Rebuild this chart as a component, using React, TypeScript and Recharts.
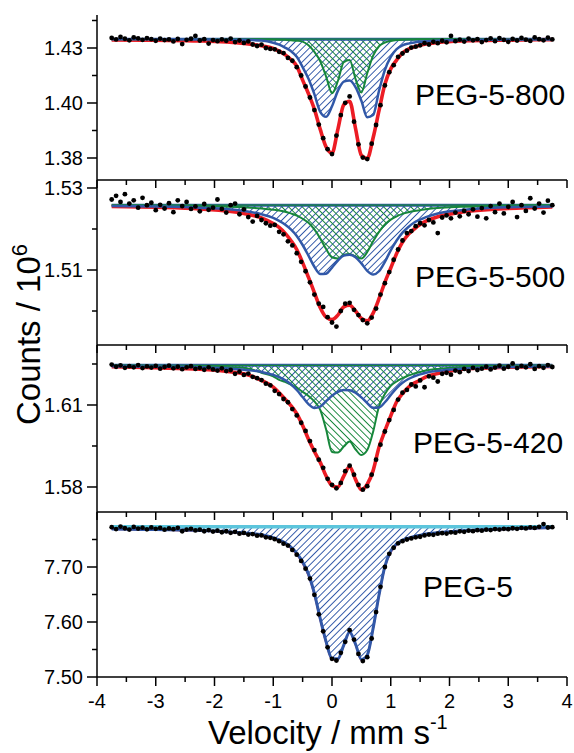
import React from 'react';
import { ComposedChart, Area, Line, Scatter, XAxis, YAxis } from 'recharts';

const RED = '#ec1c24';
const BLUE = '#3158a8';
const GREEN = '#17873b';
const CYAN = '#5cc5dc';
const FONT = "'Liberation Sans', Arial, Helvetica, sans-serif";

// velocity grid of the fitted curves (mm/s)
const VEL = [-3.75, -3, -2.25, -1.5, -1.2, -1, -0.9, -0.8, -0.7, -0.6, -0.5, -0.4, -0.3, -0.2, -0.1, 0, 0.1, 0.2, 0.3, 0.4, 0.5, 0.6, 0.7, 0.8, 0.9, 1, 1.1, 1.2, 1.3, 1.4, 1.5, 1.6, 1.8, 2.2, 3, 3.75];

// velocity of the measured channels
const VEL_DOTS = [
  -3.75, -3.675, -3.6, -3.525, -3.45, -3.375, -3.3, -3.225, -3.15, -3.075,
  -3, -2.925, -2.85, -2.775, -2.7, -2.625, -2.55, -2.475, -2.4, -2.325,
  -2.25, -2.175, -2.1, -2.025, -1.95, -1.875, -1.8, -1.725, -1.65, -1.575,
  -1.5, -1.425, -1.35, -1.275, -1.2, -1.125, -1.05, -0.975, -0.9, -0.825,
  -0.75, -0.675, -0.6, -0.525, -0.45, -0.375, -0.3, -0.225, -0.15, -0.075,
  0, 0.075, 0.15, 0.225, 0.3, 0.375, 0.45, 0.525, 0.6, 0.675,
  0.75, 0.825, 0.9, 0.975, 1.05, 1.125, 1.2, 1.275, 1.35, 1.425,
  1.5, 1.575, 1.65, 1.725, 1.8, 1.875, 1.95, 2.025, 2.1, 2.175,
  2.25, 2.325, 2.4, 2.475, 2.55, 2.625, 2.7, 2.775, 2.85, 2.925,
  3, 3.075, 3.15, 3.225, 3.3, 3.375, 3.45, 3.525, 3.6, 3.675, 3.75,
];

const BASE_SPAN = [-3.75, 3.75];

const X_TICKS = [-4, -3.5, -3, -2.5, -2, -1.5, -1, -0.5, 0, 0.5, 1, 1.5, 2, 2.5, 3, 3.5, 4];
const X_MAJOR = [-4, -3, -2, -1, 0, 1, 2, 3, 4];
const X_LABELS = ['-4', '-3', '-2', '-1', '0', '1', '2', '3', '4'];

// PEG-5-800
const P800_BASE = 1.429;
const P800_Y_MAJOR = [1.375, 1.4, 1.425];
const P800_Y_MINOR = [1.3875, 1.4125, 1.4375];
const P800_Y_LABELS = ['1.38', '1.40', '1.43'];
const P800_RED = [1.4287, 1.4285, 1.4282, 1.4271, 1.426, 1.4248, 1.4236, 1.422, 1.4198, 1.4168, 1.4104, 1.4042, 1.3972, 1.388, 1.38, 1.3772, 1.388, 1.3992, 1.4008, 1.3885, 1.3762, 1.3748, 1.3842, 1.3965, 1.4085, 1.4155, 1.4195, 1.4228, 1.4245, 1.4255, 1.4262, 1.4268, 1.4275, 1.4282, 1.4286, 1.4288];
const P800_BLUE = [1.429, 1.429, 1.4289, 1.4287, 1.4284, 1.4274, 1.4265, 1.4252, 1.4236, 1.421, 1.4163, 1.411, 1.404, 1.396, 1.3937, 1.3985, 1.4055, 1.4097, 1.4102, 1.4072, 1.401, 1.3935, 1.3945, 1.4055, 1.415, 1.421, 1.4245, 1.4262, 1.427, 1.4275, 1.4278, 1.428, 1.4283, 1.4286, 1.4288, 1.4289];
const P800_GREEN = [1.429, 1.429, 1.429, 1.429, 1.429, 1.4289, 1.4288, 1.4287, 1.4285, 1.4283, 1.4279, 1.4262, 1.4232, 1.419, 1.412, 1.4044, 1.41, 1.4185, 1.4195, 1.411, 1.4048, 1.4135, 1.4215, 1.4258, 1.4275, 1.4282, 1.4286, 1.4288, 1.4289, 1.4289, 1.429, 1.429, 1.429, 1.429, 1.429, 1.429];
const P800_DOTS = [
  1.4296, 1.4289, 1.43, 1.4292, 1.4285, 1.4298, 1.4294, 1.4287, 1.4295, 1.429,
  1.4283, 1.4293, 1.4286, 1.4289, 1.428, 1.4291, 1.4268, 1.4287, 1.4292, 1.4305,
  1.4284, 1.429, 1.427, 1.4286, 1.4281, 1.4289, 1.4283, 1.4293, 1.4277, 1.4284,
  1.4273, 1.428, 1.4266, 1.4259, 1.4265, 1.425, 1.4246, 1.4244, 1.4233, 1.4227,
  1.4205, 1.4192, 1.4163, 1.4125, 1.4075, 1.4025, 1.3968, 1.3902, 1.384, 1.379,
  1.3768, 1.3852, 1.3945, 1.4001, 1.403, 1.3915, 1.3812, 1.3752, 1.3745, 1.3815,
  1.39, 1.399, 1.408, 1.414, 1.4172, 1.421, 1.4225, 1.4238, 1.4252, 1.4256,
  1.4262, 1.4272, 1.4266, 1.4278, 1.4272, 1.4283, 1.4276, 1.4305, 1.4281, 1.4288,
  1.4279, 1.4293, 1.4285, 1.429, 1.4277, 1.4286, 1.4294, 1.4281, 1.4295, 1.4287,
  1.4278, 1.4291, 1.4284, 1.4296, 1.4288, 1.4282, 1.4298, 1.429, 1.4285, 1.4297, 1.4289,
];

// PEG-5-500
const P500_BASE = 1.5258;
const P500_Y_MAJOR = [1.51, 1.53];
const P500_Y_MINOR = [1.5, 1.52];
const P500_Y_LABELS = ['1.51', '1.53'];
const P500_RED = [1.5255, 1.5253, 1.5249, 1.5238, 1.5227, 1.5213, 1.5204, 1.519, 1.5172, 1.515, 1.5118, 1.5082, 1.5045, 1.5008, 1.4985, 1.4979, 1.499, 1.501, 1.5014, 1.5, 1.4982, 1.4976, 1.4995, 1.503, 1.507, 1.5105, 1.514, 1.5168, 1.5187, 1.52, 1.5211, 1.5219, 1.523, 1.5241, 1.525, 1.5254];
const P500_BLUE = [1.5256, 1.5255, 1.5252, 1.5244, 1.5236, 1.5227, 1.522, 1.5211, 1.5199, 1.5183, 1.5161, 1.5135, 1.5108, 1.509, 1.5091, 1.5106, 1.5123, 1.5135, 1.5137, 1.5131, 1.5116, 1.5098, 1.5089, 1.5097, 1.512, 1.5148, 1.5172, 1.5191, 1.5205, 1.5216, 1.5223, 1.5229, 1.5238, 1.5246, 1.5253, 1.5255];
const P500_GREEN = [1.5258, 1.5257, 1.5256, 1.5253, 1.525, 1.5247, 1.5245, 1.5242, 1.5238, 1.5233, 1.5225, 1.5215, 1.5199, 1.5177, 1.5151, 1.5131, 1.5128, 1.5137, 1.5139, 1.5133, 1.5128, 1.5144, 1.517, 1.5193, 1.5211, 1.5223, 1.5231, 1.5237, 1.5241, 1.5244, 1.5246, 1.5248, 1.5251, 1.5254, 1.5257, 1.5258];
const P500_DOTS = [
  1.5272, 1.5281, 1.5266, 1.5285, 1.5262, 1.527, 1.5252, 1.5276, 1.5258, 1.5264,
  1.5246, 1.5259, 1.525, 1.5263, 1.5241, 1.527, 1.5256, 1.5266, 1.5249, 1.5255,
  1.5243, 1.5261, 1.5247, 1.5252, 1.5272, 1.5249, 1.524, 1.5258, 1.5262, 1.5236,
  1.5248, 1.5229, 1.5218, 1.5232, 1.5222, 1.5214, 1.5208, 1.521, 1.5193, 1.5187,
  1.517, 1.516, 1.5141, 1.512, 1.5097, 1.507, 1.504, 1.5018, 1.501, 1.4985,
  1.4972, 1.4962, 1.5, 1.5018, 1.502, 1.5003, 1.499, 1.4978, 1.497, 1.4984,
  1.5006, 1.504, 1.5068, 1.5095, 1.5125, 1.515, 1.5172, 1.519, 1.5195, 1.5207,
  1.5214, 1.5209, 1.5222, 1.5216, 1.519, 1.5228, 1.5233, 1.5226, 1.524, 1.5231,
  1.5244, 1.5236, 1.5248, 1.523, 1.5251, 1.5226, 1.5256, 1.5241, 1.5262, 1.5238,
  1.5254, 1.5266, 1.5229, 1.5258, 1.5244, 1.5275, 1.525, 1.5262, 1.524, 1.5269, 1.5258,
];

// PEG-5-420
const P420_BASE = 1.6245;
const P420_Y_MAJOR = [1.58, 1.61];
const P420_Y_MINOR = [1.595, 1.625];
const P420_Y_LABELS = ['1.58', '1.61'];
const P420_RED = [1.624, 1.6236, 1.6231, 1.6214, 1.619, 1.6165, 1.6145, 1.6122, 1.6098, 1.6068, 1.6025, 1.5975, 1.593, 1.589, 1.584, 1.5805, 1.58, 1.584, 1.5875, 1.5828, 1.579, 1.581, 1.586, 1.5945, 1.6005, 1.606, 1.6112, 1.6142, 1.6165, 1.618, 1.6191, 1.6203, 1.6215, 1.623, 1.6238, 1.6241];
const P420_BLUE = [1.6242, 1.624, 1.6238, 1.6229, 1.6221, 1.621, 1.6202, 1.6191, 1.6176, 1.6155, 1.6129, 1.6103, 1.6089, 1.6094, 1.6114, 1.6134, 1.6148, 1.6155, 1.6154, 1.6145, 1.6128, 1.6107, 1.609, 1.6091, 1.611, 1.6137, 1.6162, 1.6181, 1.6195, 1.6205, 1.6212, 1.6218, 1.6225, 1.6233, 1.6239, 1.6241];
const P420_GREEN = [1.6244, 1.6243, 1.6241, 1.6236, 1.6218, 1.6205, 1.6192, 1.6185, 1.6175, 1.6163, 1.6148, 1.6133, 1.6113, 1.6082, 1.601, 1.5928, 1.5926, 1.5948, 1.5966, 1.5938, 1.5917, 1.5935, 1.6002, 1.6095, 1.614, 1.617, 1.6186, 1.6198, 1.6208, 1.6215, 1.6221, 1.6226, 1.6232, 1.6238, 1.6242, 1.6244];
const P420_DOTS = [
  1.6248, 1.624, 1.6245, 1.6236, 1.6242, 1.6238, 1.6246, 1.6235, 1.6241, 1.6237,
  1.6243, 1.6233, 1.6239, 1.6244, 1.6234, 1.624, 1.6231, 1.6238, 1.6242, 1.6232,
  1.6236, 1.6229, 1.6238, 1.623, 1.6226, 1.6234, 1.6224, 1.6228, 1.6214, 1.6222,
  1.621, 1.6215, 1.6203, 1.6198, 1.6191, 1.6178, 1.6172, 1.6152, 1.614, 1.6122,
  1.611, 1.6085, 1.6062, 1.6035, 1.6005, 1.5968, 1.5935, 1.59, 1.587, 1.583,
  1.5808, 1.5795, 1.5815, 1.5858, 1.5878, 1.5845, 1.5808, 1.579, 1.5803, 1.5845,
  1.59, 1.5955, 1.6003, 1.6045, 1.6082, 1.612, 1.6145, 1.6155, 1.6175, 1.6168,
  1.619, 1.6165, 1.6205, 1.62, 1.6186, 1.6214, 1.6218, 1.6211, 1.6226, 1.622,
  1.6232, 1.6224, 1.6236, 1.6228, 1.6233, 1.624, 1.623, 1.6237, 1.6244, 1.6233,
  1.624, 1.6252, 1.6235, 1.6243, 1.6238, 1.6249, 1.6232, 1.6242, 1.6236, 1.6246, 1.6239,
];

// PEG-5
const P5_BASE = 7.773;
const P5_Y_MAJOR = [7.5, 7.6, 7.7];
const P5_Y_MINOR = [7.55, 7.65, 7.75];
const P5_Y_LABELS = ['7.50', '7.60', '7.70'];
const P5_RED = [7.7685, 7.7672, 7.7655, 7.7607, 7.757, 7.7518, 7.7478, 7.7422, 7.734, 7.7228, 7.7065, 7.684, 7.649, 7.603, 7.5615, 7.5318, 7.5315, 7.5565, 7.5808, 7.5585, 7.5305, 7.539, 7.587, 7.647, 7.699, 7.7268, 7.7402, 7.7474, 7.751, 7.754, 7.7563, 7.7585, 7.761, 7.7645, 7.7685, 7.7708];
const P5_BLUE = [7.7692, 7.768, 7.7665, 7.762, 7.7585, 7.7535, 7.7495, 7.744, 7.736, 7.725, 7.709, 7.687, 7.652, 7.606, 7.564, 7.5335, 7.533, 7.558, 7.582, 7.56, 7.532, 7.54, 7.5885, 7.649, 7.701, 7.729, 7.742, 7.749, 7.7525, 7.7555, 7.7578, 7.76, 7.7625, 7.7658, 7.7695, 7.7716];
const P5_DOTS = [
  7.7725, 7.769, 7.7735, 7.7705, 7.768, 7.7728, 7.7698, 7.7715, 7.7685, 7.772,
  7.7695, 7.771, 7.7678, 7.7702, 7.7688, 7.7712, 7.765, 7.768, 7.7695, 7.7665,
  7.7678, 7.765, 7.7672, 7.7645, 7.766, 7.7632, 7.765, 7.7622, 7.764, 7.7605,
  7.762, 7.759, 7.7598, 7.757, 7.7575, 7.754, 7.753, 7.7505, 7.747, 7.7425,
  7.739, 7.731, 7.7225, 7.711, 7.697, 7.679, 7.6495, 7.614, 7.583, 7.554,
  7.533, 7.53, 7.544, 7.564, 7.585, 7.568, 7.542, 7.529, 7.536, 7.57,
  7.618, 7.664, 7.7, 7.724, 7.735, 7.743, 7.747, 7.75, 7.752, 7.754,
  7.755, 7.7575, 7.759, 7.7585, 7.7605, 7.7615, 7.7608, 7.763, 7.7625, 7.7648,
  7.764, 7.766, 7.7652, 7.767, 7.766, 7.7678, 7.7672, 7.769, 7.768, 7.7695,
  7.7688, 7.7705, 7.7695, 7.7712, 7.7702, 7.7722, 7.771, 7.773, 7.778, 7.7718, 7.7725,
];

const TOP_PAD = 14;

const curveRows = (blue: number[], red: number[], green?: number[]) =>
  VEL.map((v, i) => ({ v, blue: blue[i], red: red[i], green: green ? green[i] : undefined }));
const dotRows = (c: number[]) => VEL_DOTS.map((v, i) => ({ v, c: c[i] }));
const baseRows = (b: number) => BASE_SPAN.map((v) => ({ v, b }));

const YTick = (props: any) => {
  const { x, y, payload, majors, labels } = props;
  const i = majors.indexOf(payload.value);
  return (
    <g>
      <line x1={x - (i >= 0 ? 10 : 5)} x2={x} y1={y} y2={y} stroke="#000" strokeWidth={1.5} />
      {i >= 0 && (
        <text x={x - 14} y={y} dy="0.36em" textAnchor="end" fontSize={20} fontFamily={FONT} fill="#000">
          {labels[i]}
        </text>
      )}
    </g>
  );
};

const XTick = (props: any) => {
  const { x, y, payload, showLabels } = props;
  const i = X_MAJOR.indexOf(payload.value);
  const len = i >= 0 ? (showLabels ? 9 : 8) : 5;
  return (
    <g>
      <line x1={x} x2={x} y1={y} y2={y + len} stroke="#000" strokeWidth={1.5} />
      {showLabels && i >= 0 && (
        <text x={x} y={y + 31} textAnchor="middle" fontSize={20} fontFamily={FONT} fill="#000">
          {X_LABELS[i]}
        </text>
      )}
    </g>
  );
};

const Dot = (p: any) => <circle cx={p.cx} cy={p.cy} r={2.4} fill="#000" />;

interface PanelProps {
  id: string;
  top: number;
  plotHeight: number;
  axisHeight: number;
  domain: [number, number];
  base: number;
  blue: number[];
  red: number[];
  green?: number[];
  dots: number[];
  yMajor: number[];
  yMinor: number[];
  yLabels: string[];
  bottom?: boolean;
}

const Panel = ({ id, top, plotHeight, axisHeight, domain, base, blue, red, green, dots, yMajor, yMinor, yLabels, bottom }: PanelProps) => {
  const rows = curveRows(blue, red, green);
  const hasGreen = !!green;
  return (
    <div style={{ position: 'absolute', left: 0, top: top - TOP_PAD }}>
      <ComposedChart width={574} height={plotHeight + axisHeight + TOP_PAD} data={rows} margin={{ top: TOP_PAD, right: 7, bottom: 0, left: 0 }}>
        <defs>
          <pattern id={`hb-${id}`} patternUnits="userSpaceOnUse" width={4.8} height={4.8} patternTransform="rotate(45)">
            <line x1={2.4} y1={0} x2={2.4} y2={4.8} stroke={BLUE} strokeWidth={1} />
          </pattern>
          <pattern id={`hg-${id}`} patternUnits="userSpaceOnUse" width={4.8} height={4.8} patternTransform="rotate(-45)">
            <line x1={2.4} y1={0} x2={2.4} y2={4.8} stroke={GREEN} strokeWidth={1} />
          </pattern>
        </defs>
        <XAxis
          dataKey="v"
          type="number"
          domain={[-4, 4]}
          ticks={X_TICKS}
          interval={0}
          height={axisHeight}
          tickSize={0}
          tickMargin={0}
          tickLine={false}
          axisLine={{ stroke: '#000', strokeWidth: 1.5 }}
          tick={(p: any) => <XTick {...p} showLabels={!!bottom} />}
          allowDataOverflow
        />
        <YAxis
          type="number"
          domain={domain}
          ticks={[...yMinor, ...yMajor]}
          interval={0}
          width={97}
          tickSize={0}
          tickMargin={0}
          tickLine={false}
          axisLine={{ stroke: '#000', strokeWidth: 1.5 }}
          tick={(p: any) => <YTick {...p} majors={yMajor} labels={yLabels} />}
          allowDataOverflow
        />
        <Area dataKey="blue" type="monotone" baseValue={base} fill={`url(#hb-${id})`} fillOpacity={1} stroke="none" isAnimationActive={false} />
        {hasGreen && (
          <Area dataKey="green" type="monotone" baseValue={base} fill={`url(#hg-${id})`} fillOpacity={1} stroke="none" isAnimationActive={false} />
        )}
        <Scatter data={dotRows(dots)} dataKey="c" shape={Dot} isAnimationActive={false} />
        {hasGreen ? (
          <Line data={baseRows(base)} dataKey="b" stroke={BLUE} strokeWidth={3} dot={false} activeDot={false} isAnimationActive={false} />
        ) : (
          <Line data={baseRows(base)} dataKey="b" stroke={CYAN} strokeWidth={3.5} dot={false} activeDot={false} isAnimationActive={false} />
        )}
        {hasGreen && (
          <Line data={baseRows(base)} dataKey="b" stroke={GREEN} strokeWidth={1.3} dot={false} activeDot={false} isAnimationActive={false} />
        )}
        <Line dataKey="red" type="monotone" stroke={RED} strokeWidth={hasGreen ? 3.6 : 1.6} dot={false} activeDot={false} isAnimationActive={false} />
        {hasGreen && (
          <Line dataKey="green" type="monotone" stroke={GREEN} strokeWidth={2} dot={false} activeDot={false} isAnimationActive={false} />
        )}
        <Line dataKey="blue" type="monotone" stroke={BLUE} strokeWidth={hasGreen ? 2.5 : 3} dot={false} activeDot={false} isAnimationActive={false} />
      </ComposedChart>
    </div>
  );
};

export default function App() {
  return (
    <div style={{ position: 'absolute', left: 0, top: 0, width: 574, height: 753, background: '#fff', overflow: 'hidden' }}>
      <Panel id="p800" top={15} plotHeight={165} axisHeight={10} domain={[1.365, 1.44]} base={P800_BASE}
        blue={P800_BLUE} red={P800_RED} green={P800_GREEN} dots={P800_DOTS}
        yMajor={P800_Y_MAJOR} yMinor={P800_Y_MINOR} yLabels={P800_Y_LABELS} />
      <Panel id="p500" top={180} plotHeight={165} axisHeight={10} domain={[1.49171, 1.53195]} base={P500_BASE}
        blue={P500_BLUE} red={P500_RED} green={P500_GREEN} dots={P500_DOTS}
        yMajor={P500_Y_MAJOR} yMinor={P500_Y_MINOR} yLabels={P500_Y_LABELS} />
      <Panel id="p420" top={345} plotHeight={167} axisHeight={10} domain={[1.57085, 1.63195]} base={P420_BASE}
        blue={P420_BLUE} red={P420_RED} green={P420_GREEN} dots={P420_DOTS}
        yMajor={P420_Y_MAJOR} yMinor={P420_Y_MINOR} yLabels={P420_Y_LABELS} />
      <Panel id="p5" top={512} plotHeight={165} axisHeight={45} domain={[7.5, 7.8]} base={P5_BASE}
        blue={P5_BLUE} red={P5_RED} dots={P5_DOTS}
        yMajor={P5_Y_MAJOR} yMinor={P5_Y_MINOR} yLabels={P5_Y_LABELS} bottom />
      <svg width={574} height={753} style={{ position: 'absolute', left: 0, top: 0, pointerEvents: 'none' }} fontFamily={FONT}>
        <text x={415} y={105} fontSize={30} fill="#000">PEG-5-800</text>
        <text x={415} y={287} fontSize={30} fill="#000">PEG-5-500</text>
        <text x={413} y={453} fontSize={30} fill="#000">PEG-5-420</text>
        <text x={423} y={597} fontSize={30} fill="#000">PEG-5</text>
        <text x={-425} y={40} transform="rotate(-90)" fontSize={33} fill="#000">
          Counts / 10<tspan dy={-13} fontSize={22}>6</tspan>
        </text>
        <text x={208} y={744} fontSize={33} fill="#000">
          Velocity / mm s<tspan dy={-15} fontSize={20}>-1</tspan>
        </text>
      </svg>
    </div>
  );
}
